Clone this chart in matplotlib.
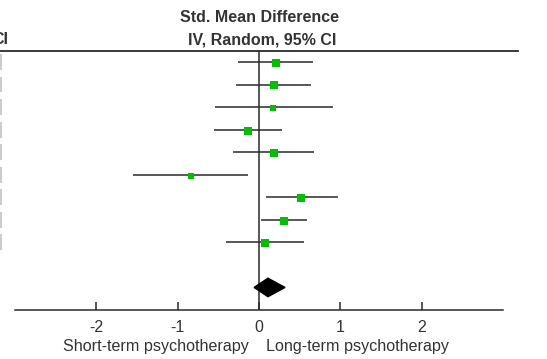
import numpy as np
import matplotlib.pyplot as plt
from matplotlib.lines import Line2D
from matplotlib.patches import Polygon
import matplotlib.transforms as mtransforms

plt.rcParams["font.family"] = ["Liberation Sans", "DejaVu Sans"]

# study estimates (std. mean difference) with 95% CI
est = [0.21, 0.18, 0.17, -0.13, 0.18, -0.84, 0.52, 0.31, 0.07]
lo = [-0.26, -0.28, -0.54, -0.55, -0.32, -1.55, 0.08, 0.02, -0.41]
hi = [0.66, 0.64, 0.91, 0.28, 0.68, -0.13, 0.97, 0.59, 0.55]
weights = [12.0, 12.0, 8.0, 12.0, 12.0, 8.0, 12.0, 17.0, 13.0]

# pooled estimate
pooled_est, pooled_lo, pooled_hi = 0.11, -0.06, 0.32

xticks = [-2, -1, 0, 1, 2]
left_label = "Short-term psychotherapy"
right_label = "Long-term psychotherapy"

W, H = 547, 359
fig = plt.figure(figsize=(W / 100, H / 100), dpi=100)
ax = fig.add_axes([15 / W, (H - 310) / H, (503 - 15) / W, (310 - 50.7) / H])

rows = np.arange(1, len(est) + 1)
line_col = "#2a2a2a"
txt_col = "#333333"

ax.hlines(rows, lo, hi, color=line_col, lw=1.1, zorder=2)
for r, e, w in zip(rows, est, weights):
    ax.plot(e, r + 0.04, marker="s", ls="none", color="#00c000",
            markersize=np.sqrt(w) * 1.5, markeredgewidth=0, zorder=3)

# pooled diamond
dy = 0.41
diamond = Polygon([[pooled_lo, 11], [pooled_est, 11 - dy], [pooled_hi, 11],
                   [pooled_est, 11 + dy]], closed=True, color="black", zorder=3)
ax.add_patch(diamond)

ax.vlines(0, 0.5, 12, color=line_col, lw=1.1, zorder=1)

ax.set_xlim(-3, 3)
ax.set_ylim(12, 0.5)
ax.set_yticks([])
ax.set_xticks(xticks)
ax.set_xticklabels([str(t) for t in xticks])
for s in ["top", "left", "right"]:
    ax.spines[s].set_visible(False)
ax.spines["bottom"].set_color(line_col)
ax.spines["bottom"].set_linewidth(1.1)
ax.tick_params(axis="x", direction="in", length=6, width=1.1,
               color=line_col, labelsize=11.5, labelcolor=txt_col, pad=7)
ax.patch.set_visible(False)

# direction labels under axis
trans = mtransforms.blended_transform_factory(ax.transData, fig.transFigure)
ax.text(-0.12, (H - 346) / H, left_label, transform=trans, ha="right",
        va="center", fontsize=11.6, color=txt_col)
ax.text(0.09, (H - 346) / H, right_label, transform=trans, ha="left",
        va="center", fontsize=11.6, color=txt_col)

# header
fig.text(259 / W, (H - 17) / H, "Std. Mean Difference", ha="center",
         va="center", fontsize=11.5, fontweight="bold", color=txt_col)
fig.text(262 / W, (H - 40) / H, "IV, Random, 95% CI", ha="center",
         va="center", fontsize=11.5, fontweight="bold", color=txt_col)
fig.text(8 / W, (H - 40) / H, "CI", ha="right", va="center",
         fontsize=11.5, fontweight="bold", color=txt_col)
fig.add_artist(Line2D([0, 518 / W], [(H - 50.7) / H] * 2,
                      color=line_col, lw=1.3))

# cropped table remnants on the left edge
ftrans = mtransforms.blended_transform_factory(fig.transFigure, ax.transData)
ax.vlines([1 / W] * len(rows), rows - 0.35, rows + 0.35, transform=ftrans,
          color="#cccccc", lw=1.5, clip_on=False)

fig.savefig("out.png", dpi=100)
